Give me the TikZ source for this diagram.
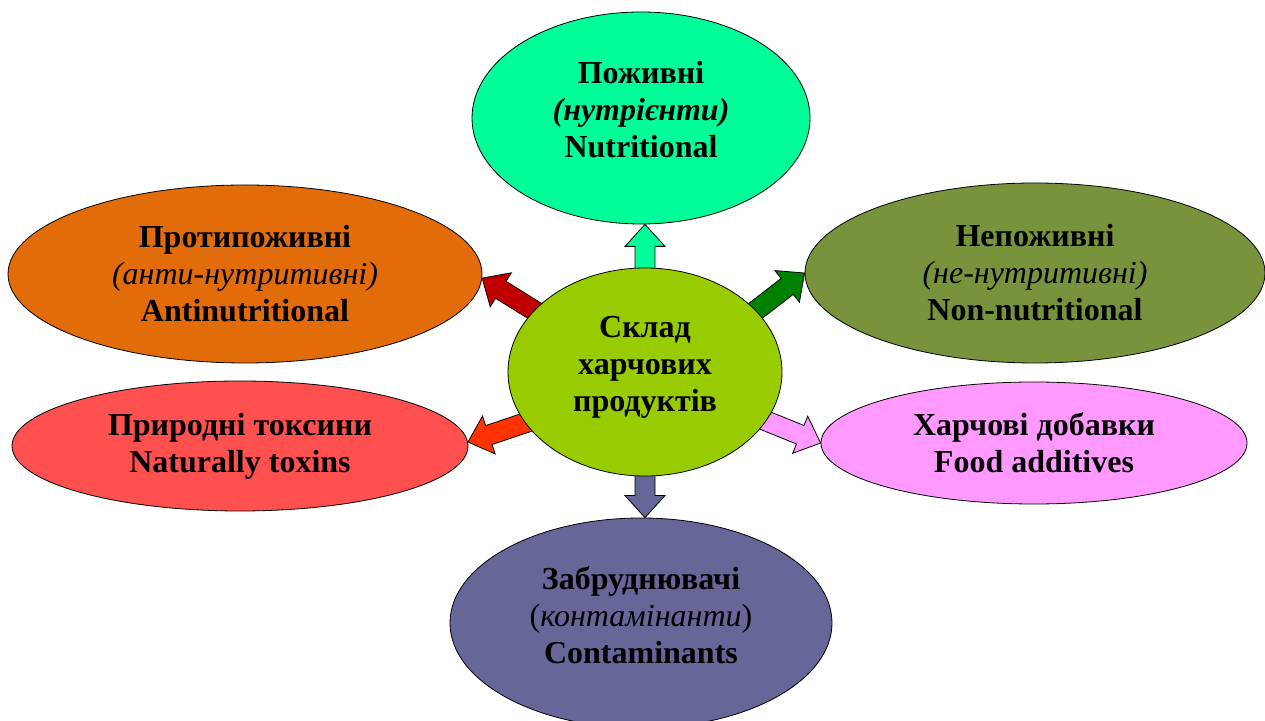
\documentclass[tikz,border=0pt]{standalone}
\usepackage{fontspec}
\setmainfont{Liberation Serif}
\usetikzlibrary{shapes.geometric,calc,backgrounds}

\definecolor{nutrgreen}{RGB}{0,255,153}
\definecolor{antiorange}{RGB}{226,107,10}
\definecolor{antiarrow}{RGB}{192,0,0}
\definecolor{nonolive}{RGB}{119,147,60}
\definecolor{nonarrow}{RGB}{0,128,0}
\definecolor{toxred}{RGB}{255,80,80}
\definecolor{toxarrow}{RGB}{255,51,0}
\definecolor{addpink}{RGB}{255,153,255}
\definecolor{contblue}{RGB}{102,102,153}
\definecolor{ctrgreen}{RGB}{153,204,0}

% block arrow: from, to, fill
\newcommand{\blockarr}[3]{%
  \coordinate (ba1) at (#1);
  \coordinate (ba2) at (#2);
  \coordinate (bah) at ($(ba2)!22pt!(ba1)$);
  \filldraw[fill=#3,draw=black,line width=0.8pt]
    ($(ba1)!10pt!90:(ba2)$) -- ($(bah)!10pt!90:(ba2)$) -- ($(bah)!20pt!90:(ba2)$)
    -- (ba2) -- ($(bah)!20pt!-90:(ba2)$) -- ($(bah)!10pt!-90:(ba2)$)
    -- ($(ba1)!10pt!-90:(ba2)$) -- cycle;}

\begin{document}
\begin{tikzpicture}[x=1pt,y=1pt,
    blob/.style={ellipse,draw=black,line width=0.8pt,inner sep=0pt,align=center,
      font=\fontsize{32}{37}\selectfont\bfseries}]
    \useasboundingbox (0,0) rectangle (1265,720);
    \node[blob,fill=ctrgreen,minimum width=274pt,minimum height=208pt,text depth=17pt] (ctr) at (645,348)
        {Склад\\харчових\\продуктів};
    \node[blob,fill=nutrgreen,minimum width=338pt,minimum height=212pt,text depth=18pt] (nutr) at (641,602)
        {Поживні\\{\itshape(нутрієнти)}\\Nutritional};
    \node[blob,fill=antiorange,minimum width=474pt,minimum height=178pt] (anti) at (245,446)
        {Протипоживні\\{\mdseries\itshape(анти-нутритивні)}\\Antinutritional};
    \node[blob,fill=nonolive,minimum width=460pt,minimum height=180pt] (non) at (1035,447)
        {Непоживні\\{\mdseries\itshape(не-нутритивні)}\\Non-nutritional};
    \node[blob,fill=toxred,minimum width=456pt,minimum height=130pt] (tox) at (240,274)
        {Природні токсини\\Naturally toxins};
    \node[blob,fill=addpink,minimum width=426pt,minimum height=122pt] (add) at (1034,277)
        {Харчові добавки\\Food additives};
    \node[blob,fill=contblue,minimum width=382pt,minimum height=210pt,text depth=16pt] (cont) at (641,97)
        {Забруднювачі\\{\mdseries(\textit{контамінанти})}\\Contaminants};

    \begin{scope}[on background layer]
        \blockarr{$(ctr.north)+(0,-8)$}{ctr.north |- nutr.south}{nutrgreen}
        \blockarr{$(ctr.south)+(0,8)$}{ctr.south |- cont.north}{contblue}
        \blockarr{$(ctr.151)!-8pt!(anti.-1)$}{anti.-1}{antiarrow}
        \blockarr{$(ctr.29)!-8pt!(non.west)$}{non.west}{nonarrow}
        \blockarr{$(ctr.203)!-8pt!(tox.1)$}{tox.1}{toxarrow}
        \blockarr{$(ctr.-22)!-8pt!(add.west)$}{add.west}{addpink}
    \end{scope}
\end{tikzpicture}
\end{document}
